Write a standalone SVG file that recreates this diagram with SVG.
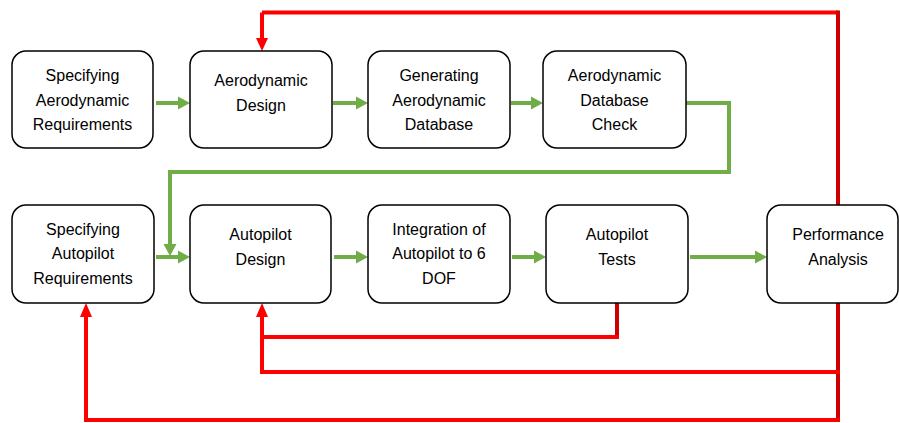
<svg xmlns="http://www.w3.org/2000/svg" width="899" height="423" viewBox="0 0 899 423">
<defs>
<style>
.box{fill:#fff;stroke:#000;stroke-width:1.5}
.t{font-family:"Liberation Sans",Arial,sans-serif;font-size:16px;fill:#000;text-anchor:middle}
.g{fill:none;stroke:#70AD47;stroke-width:4}
.r{fill:none;stroke:#FF0000;stroke-width:4}
.rd{fill:none;stroke:#CC0000;stroke-width:4}
.gh{fill:#70AD47}
.rh{fill:#FF0000}
</style>
</defs>
<g id="connectors">
<!-- red feedback lines -->
<path class="r" d="M262,12.5 H838"/>
<path class="rd" d="M838,10.5 V420"/>
<path class="r" d="M262,12.5 V40"/>
<polygon class="rh" points="256,38 268,38 262,51"/>
<path class="rd" d="M617,303 V337"/>
<path class="r" d="M619,337 H262"/>
<path class="r" d="M262,372 H840"/>
<path class="r" d="M262,374 V315"/>
<polygon class="rh" points="256,317 268,317 262,303"/>
<path class="r" d="M840,420 H86"/>
<path class="r" d="M86,422 V315"/>
<polygon class="rh" points="80,317 92,317 86,303"/>
<!-- green forward lines -->
<path class="g" d="M156,103 H179"/>
<polygon class="gh" points="178,96.5 190,103 178,109.5"/>
<path class="g" d="M333,103 H357"/>
<polygon class="gh" points="356,96.5 368,103 356,109.5"/>
<path class="g" d="M511,103 H532"/>
<polygon class="gh" points="531,96.5 543,103 531,109.5"/>
<path class="g" d="M686,103 H729 V172 H170 V246"/>
<polygon class="gh" points="163.5,244 176.5,244 170,256"/>
<path class="g" d="M156,257 H179"/>
<polygon class="gh" points="178,250.5 190,257 178,263.5"/>
<path class="g" d="M334,257 H357"/>
<polygon class="gh" points="356,250.5 368,257 356,263.5"/>
<path class="g" d="M512,257 H535"/>
<polygon class="gh" points="534,250.5 546,257 534,263.5"/>
<path class="g" d="M690,257 H756"/>
<polygon class="gh" points="755,250.5 767,257 755,263.5"/>
</g>
<g id="n1"><rect class="box" x="12" y="51" width="141" height="97" rx="14"/>
<text class="t" x="82.5" y="81">Specifying</text><text class="t" x="82.5" y="106">Aerodynamic</text><text class="t" x="82.5" y="130">Requirements</text></g>
<g id="n2"><rect class="box" x="190" y="51" width="142" height="97" rx="14"/>
<text class="t" x="261" y="86">Aerodynamic</text><text class="t" x="261" y="111">Design</text></g>
<g id="n3"><rect class="box" x="368" y="51" width="142" height="97" rx="14"/>
<text class="t" x="439" y="81">Generating</text><text class="t" x="439" y="106">Aerodynamic</text><text class="t" x="439" y="130">Database</text></g>
<g id="n4"><rect class="box" x="543" y="51" width="143" height="97" rx="14"/>
<text class="t" x="614.5" y="81">Aerodynamic</text><text class="t" x="614.5" y="106">Database</text><text class="t" x="614.5" y="130">Check</text></g>
<g id="n5"><rect class="box" x="12" y="205" width="142" height="98" rx="14"/>
<text class="t" x="83" y="235">Specifying</text><text class="t" x="83" y="259">Autopilot</text><text class="t" x="83" y="284">Requirements</text></g>
<g id="n6"><rect class="box" x="190" y="205" width="141" height="98" rx="14"/>
<text class="t" x="260.5" y="240">Autopilot</text><text class="t" x="260.5" y="265">Design</text></g>
<g id="n7"><rect class="box" x="368" y="205" width="142" height="98" rx="14"/>
<text class="t" x="439" y="235">Integration of</text><text class="t" x="439" y="259">Autopilot to 6</text><text class="t" x="439" y="284">DOF</text></g>
<g id="n8"><rect class="box" x="546" y="205" width="142" height="98" rx="14"/>
<text class="t" x="617" y="240">Autopilot</text><text class="t" x="617" y="265">Tests</text></g>
<g id="n9"><rect class="box" x="767" y="205" width="131" height="98" rx="14"/>
<text class="t" x="838" y="240">Performance</text><text class="t" x="838" y="265">Analysis</text></g>
</svg>
